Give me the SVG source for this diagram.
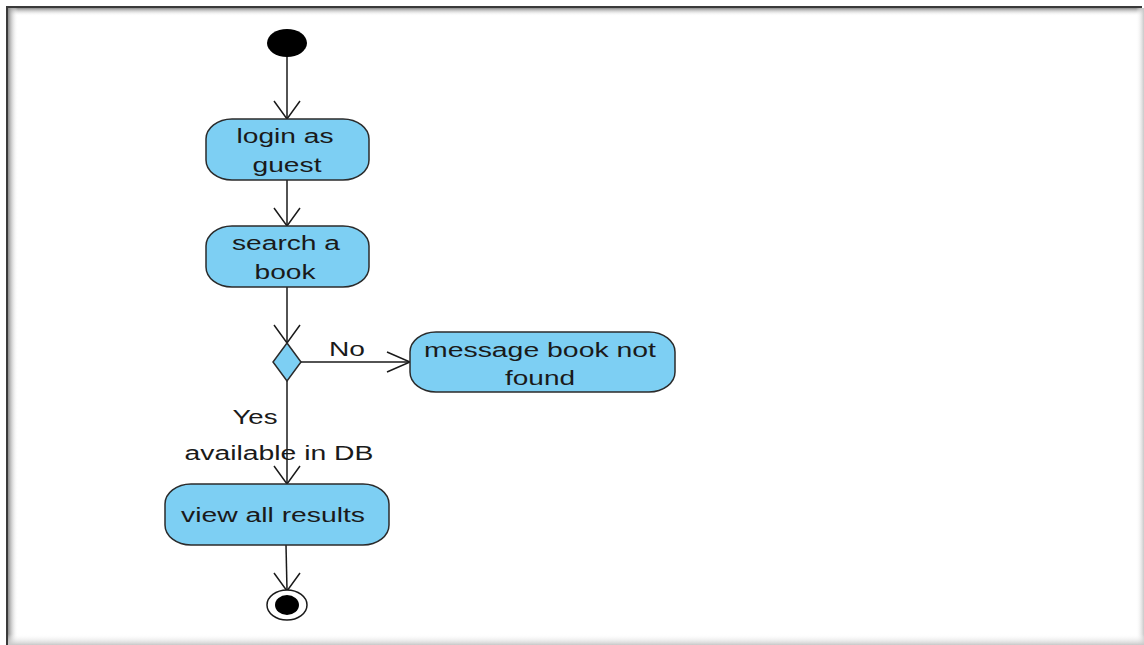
<svg xmlns="http://www.w3.org/2000/svg" width="1144" height="645" viewBox="0 0 1144 645">
  <style>
    .act { fill: #7dcff3; stroke: #2b2b2b; stroke-width: 1.5; }
    .edge { fill: none; stroke: #1a1a1a; stroke-width: 1.5; }
    .head { fill: none; stroke: #1a1a1a; stroke-width: 1.5; stroke-linejoin: miter; }
    text { font-family: "Liberation Sans", Arial, sans-serif; font-size: 20px; fill: #1a1a1a; }
    .c { text-anchor: middle; }
  </style>
  <defs>
    <linearGradient id="gTop" x1="0" y1="0" x2="0" y2="1">
      <stop offset="0" stop-color="#8a8a8a"/>
      <stop offset="1" stop-color="#ffffff" stop-opacity="0"/>
    </linearGradient>
    <linearGradient id="gLeft" x1="0" y1="0" x2="1" y2="0">
      <stop offset="0" stop-color="#8a8a8a"/>
      <stop offset="1" stop-color="#ffffff" stop-opacity="0"/>
    </linearGradient>
    <linearGradient id="gRight" x1="0" y1="0" x2="1" y2="0">
      <stop offset="0" stop-color="#ffffff" stop-opacity="0"/>
      <stop offset="1" stop-color="#c8c8c8"/>
    </linearGradient>
    <linearGradient id="gBottom" x1="0" y1="0" x2="0" y2="1">
      <stop offset="0" stop-color="#ffffff" stop-opacity="0"/>
      <stop offset="1" stop-color="#c8c8c8"/>
    </linearGradient>
  </defs>

  <g id="frame">
    <rect x="0" y="0" width="1144" height="645" fill="#ffffff"/>
    <rect x="8" y="8" width="1136" height="8" fill="url(#gTop)"/>
    <rect x="8" y="8" width="10" height="637" fill="url(#gLeft)"/>
    <rect x="1136" y="8" width="8" height="637" fill="url(#gRight)"/>
    <rect x="8" y="634" width="1136" height="11" fill="url(#gBottom)"/>
    <line x1="6" y1="7" x2="1142" y2="7" stroke="#3a3a3a" stroke-width="2"/>
    <line x1="7" y1="6" x2="7" y2="645" stroke="#3a3a3a" stroke-width="2"/>
  </g>

  <g id="connectors">
    <line class="edge" x1="287" y1="55" x2="287" y2="119"/>
    <polyline class="head" points="274,101 287,119 300,101"/>
    <line class="edge" x1="287" y1="180" x2="287" y2="226"/>
    <polyline class="head" points="274,208 287,226 300,208"/>
    <line class="edge" x1="287" y1="287" x2="287" y2="343"/>
    <polyline class="head" points="274,325 287,343 300,325"/>
    <line class="edge" x1="301" y1="362" x2="410" y2="362"/>
    <polyline class="head" points="387,352 410,362 387,372"/>
    <line class="edge" x1="287" y1="381" x2="287" y2="484"/>
    <polyline class="head" points="274,466 287,484 300,466"/>
    <line class="edge" x1="286" y1="545" x2="287" y2="590"/>
    <polyline class="head" points="274,573 287,591 300,573"/>
  </g>
  <g id="edge-labels">
    <text x="347" y="356" class="c" textLength="36" lengthAdjust="spacingAndGlyphs">No</text>
    <text x="255" y="424" class="c" textLength="45" lengthAdjust="spacingAndGlyphs">Yes</text>
    <text x="279" y="460" class="c" textLength="189" lengthAdjust="spacingAndGlyphs">available in DB</text>
  </g>

  <g id="start">
    <ellipse cx="287" cy="43" rx="20" ry="14" fill="#000"/>
  </g>

  <g id="login">
    <rect class="act" x="206" y="119" width="163" height="61" rx="26" ry="20"/>
    <text x="285" y="143" class="c" textLength="97" lengthAdjust="spacingAndGlyphs">login as</text>
    <text x="287" y="172" class="c" textLength="69" lengthAdjust="spacingAndGlyphs">guest</text>
  </g>

  <g id="search">
    <rect class="act" x="206" y="226" width="163" height="61" rx="26" ry="20"/>
    <text x="286" y="250" class="c" textLength="108" lengthAdjust="spacingAndGlyphs">search a</text>
    <text x="285" y="279" class="c" textLength="61" lengthAdjust="spacingAndGlyphs">book</text>
  </g>

  <g id="decision">
    <polygon class="act" points="287,343 301,362 287,381 273,362"/>
  </g>

  <g id="notfound">
    <rect class="act" x="410" y="332" width="265" height="60" rx="26" ry="20"/>
    <text x="540" y="357" class="c" textLength="232" lengthAdjust="spacingAndGlyphs">message book not</text>
    <text x="540" y="385" class="c" textLength="70" lengthAdjust="spacingAndGlyphs">found</text>
  </g>

  <g id="view">
    <rect class="act" x="165" y="484" width="224" height="61" rx="26" ry="20"/>
    <text x="273" y="522" class="c" textLength="184" lengthAdjust="spacingAndGlyphs">view all results</text>
  </g>

  <g id="end">
    <ellipse cx="287" cy="605" rx="20" ry="15" fill="#fff" stroke="#1a1a1a" stroke-width="1.5"/>
    <ellipse cx="287" cy="605" rx="12" ry="10" fill="#000"/>
  </g>
</svg>
